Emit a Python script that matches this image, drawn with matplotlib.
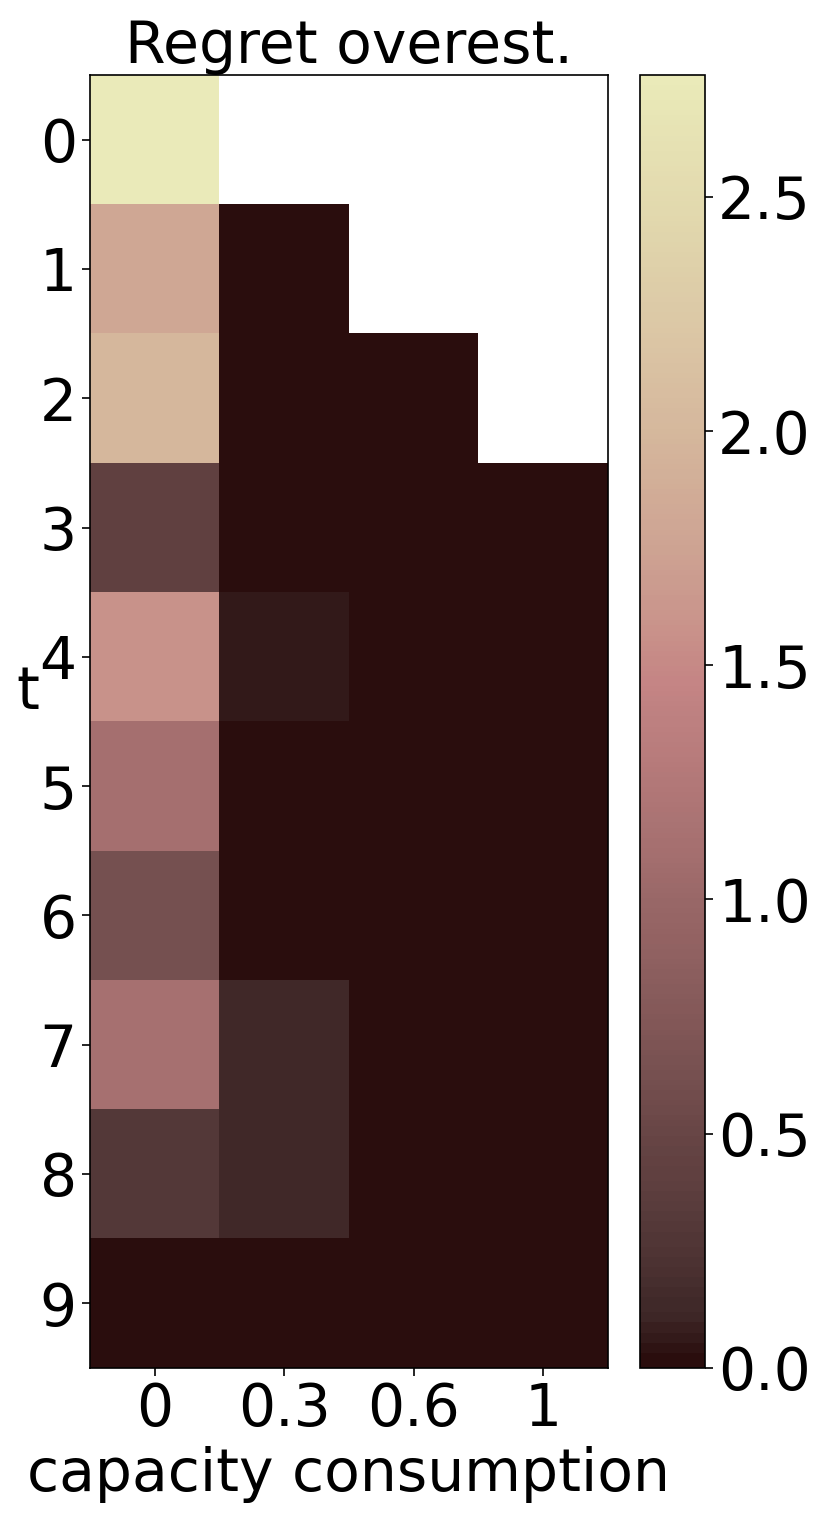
import numpy as np
import matplotlib
matplotlib.use("Agg")
import matplotlib.pyplot as plt
from matplotlib.colors import ListedColormap

# data
t_labels = ["0", "1", "2", "3", "4", "5", "6", "7", "8", "9"]
cap_labels = ["0", "0.3", "0.6", "1"]
col_0 = [2.76, 1.80, 2.00, 0.42, 1.58, 1.10, 0.62, 1.12, 0.30, 0.0]
col_03 = [np.nan, 0.0, 0.0, 0.0, 0.07, 0.0, 0.02, 0.12, 0.13, 0.0]
col_06 = [np.nan, np.nan, 0.0, 0.0, 0.0, 0.0, 0.0, 0.0, 0.0, 0.0]
col_1 = [np.nan, np.nan, np.nan, 0.0, 0.0, 0.0, 0.0, 0.0, 0.0, 0.0]

regret = np.ma.masked_invalid(np.array([col_0, col_03, col_06, col_1]).T)

# lower part of "pink", darker at the low end
t = np.linspace(0, 1, 256)
u = np.interp(t, [0, 0.18, 0.36, 0.59, 0.73, 1], [0, 0.11, 0.28, 0.56, 0.71, 1])
cmap = ListedColormap(plt.cm.pink(0.75 * u))
cmap.set_bad((1, 1, 1, 0))

fs = 42
fig = plt.figure(figsize=(8.31, 15.24), dpi=100)
ax = fig.add_axes([0.1083, 0.1024, 0.6233, 0.8484])
cax = fig.add_axes([0.7702, 0.1024, 0.0782, 0.8484])

im = ax.imshow(regret, cmap=cmap, vmin=0, vmax=2.76, alpha=0.95, aspect="auto")
ax.set_xticks(range(len(cap_labels)))
ax.set_xticklabels(cap_labels, fontsize=fs)
ax.set_yticks(range(len(t_labels)))
ax.set_yticklabels(t_labels, fontsize=fs)
ax.tick_params(length=6, width=1.2)
ax.set_xlabel("capacity consumption", fontsize=fs, labelpad=6)
ax.set_ylabel("t", fontsize=fs, rotation=0)
ax.yaxis.set_label_coords(-0.12, 0.5)
ax.set_title("Regret overest.", fontsize=fs, pad=4)
for s in ax.spines.values():
    s.set_linewidth(1.2)

cb = fig.colorbar(im, cax=cax, ticks=[0.0, 0.5, 1.0, 1.5, 2.0, 2.5])
cb.ax.tick_params(labelsize=fs, length=6, width=1.2)
cb.outline.set_linewidth(1.2)

fig.savefig("out.png", dpi=100)
